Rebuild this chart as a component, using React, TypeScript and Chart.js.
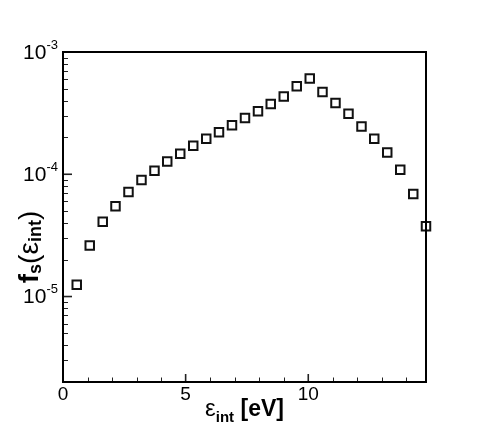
import React, { useEffect, useRef } from "react";
import { Chart, registerables } from "chart.js";

Chart.register(...registerables);

const energies = [
  0.56, 1.09, 1.62, 2.14, 2.67, 3.2, 3.73, 4.25, 4.78, 5.31, 5.84, 6.36, 6.89, 7.42,
  7.95, 8.47, 9.0, 9.53, 10.06, 10.58, 11.11, 11.64, 12.17, 12.69, 13.22, 13.75, 14.28, 14.8,
];
const fsValues = [
  1.25e-5, 2.62e-5, 4.09e-5, 5.47e-5, 7.16e-5, 8.99e-5, 1.07e-4, 1.27e-4, 1.47e-4, 1.71e-4,
  1.95e-4, 2.21e-4, 2.52e-4, 2.88e-4, 3.27e-4, 3.75e-4, 4.33e-4, 5.24e-4, 6.08e-4, 4.7e-4,
  3.82e-4, 3.13e-4, 2.46e-4, 1.95e-4, 1.51e-4, 1.09e-4, 6.9e-5, 3.75e-5,
];
const xMajorTicks = [0, 5, 10];
const xMinorTicks = [1, 2, 3, 4, 6, 7, 8, 9, 11, 12, 13, 14];
const yMajorTicks = [1e-3, 1e-4, 1e-5];
const yMajorExponents = ["-3", "-4", "-5"];
const yMinorTicks = [
  3e-6, 4e-6, 5e-6, 6e-6, 7e-6, 8e-6, 9e-6,
  2e-5, 3e-5, 4e-5, 5e-5, 6e-5, 7e-5, 8e-5, 9e-5,
  2e-4, 3e-4, 4e-4, 5e-4, 6e-4, 7e-4, 8e-4, 9e-4,
];

const FONT = '"Liberation Sans", Arial, Helvetica, sans-serif';

const decorPlugin = {
  id: "decor",
  afterDatasetsDraw(chart: any) {
    const { ctx, chartArea } = chart;
    const xs = chart.scales.x;
    const ys = chart.scales.y;
    const { left, right, top, bottom } = chartArea;
    ctx.save();

    // ticks (inward)
    ctx.strokeStyle = "#222";
    ctx.lineWidth = 1;
    for (const v of xMinorTicks) {
      const px = Math.round(xs.getPixelForValue(v)) + 0.5;
      ctx.beginPath();
      ctx.moveTo(px, bottom);
      ctx.lineTo(px, bottom - 4.5);
      ctx.stroke();
    }
    for (const v of yMinorTicks) {
      const py = Math.round(ys.getPixelForValue(v)) + 0.5;
      ctx.beginPath();
      ctx.moveTo(left, py);
      ctx.lineTo(left + 5, py);
      ctx.stroke();
    }
    ctx.lineWidth = 1.6;
    for (const v of xMajorTicks) {
      const px = xs.getPixelForValue(v);
      ctx.beginPath();
      ctx.moveTo(px, bottom);
      ctx.lineTo(px, bottom - 8);
      ctx.stroke();
    }
    for (const v of yMajorTicks) {
      const py = ys.getPixelForValue(v);
      ctx.beginPath();
      ctx.moveTo(left, py);
      ctx.lineTo(left + 9, py);
      ctx.stroke();
    }

    // frame
    ctx.strokeStyle = "#000";
    ctx.lineWidth = 2;
    ctx.strokeRect(left, top, right - left, bottom - top);

    ctx.fillStyle = "#000";
    // x tick labels
    ctx.font = `19px ${FONT}`;
    ctx.textAlign = "center";
    ctx.textBaseline = "alphabetic";
    for (const v of xMajorTicks) {
      ctx.fillText(String(v), xs.getPixelForValue(v), bottom + 18);
    }

    // y tick labels with superscript
    yMajorTicks.forEach((v, i) => {
      const py = ys.getPixelForValue(v);
      const exp = yMajorExponents[i];
      ctx.textAlign = "left";
      ctx.font = `13px ${FONT}`;
      const wExp = ctx.measureText(exp).width;
      ctx.font = `21px ${FONT}`;
      const wBase = ctx.measureText("10").width;
      const endX = left - 5;
      const startX = endX - wExp - wBase;
      ctx.fillText("10", startX, py + 6.5);
      ctx.font = `13px ${FONT}`;
      ctx.fillText(exp, startX + wBase, py - 3.5);
    });

    // x title: ε_int [eV]
    {
      const parts = [
        { t: "\u03b5", f: `24px ${FONT}`, dy: 0 },
        { t: "int", f: `bold 15px ${FONT}`, dy: 6 },
        { t: " [eV]", f: `bold 23px ${FONT}`, dy: 0 },
      ];
      let total = 0;
      for (const p of parts) {
        ctx.font = p.f;
        total += ctx.measureText(p.t).width;
      }
      let x = (left + right) / 2 - total / 2;
      const base = 416;
      ctx.textAlign = "left";
      for (const p of parts) {
        ctx.font = p.f;
        ctx.fillText(p.t, x, base + p.dy);
        x += ctx.measureText(p.t).width;
      }
    }

    // y title: f_s(ε_int)
    {
      const parts = [
        { t: "f", f: `bold 28px ${FONT}`, dy: 0 },
        { t: "s", f: `bold 18px ${FONT}`, dy: 3 },
        { t: "(", f: `28px ${FONT}`, dy: 0 },
        { t: "\u03b5", f: `28px ${FONT}`, dy: 0 },
        { t: "int", f: `bold 18px ${FONT}`, dy: 3 },
        { t: ")", f: `28px ${FONT}`, dy: 0 },
      ];
      let total = 0;
      for (const p of parts) {
        ctx.font = p.f;
        total += ctx.measureText(p.t).width;
      }
      ctx.translate(38, 247);
      ctx.rotate(-Math.PI / 2);
      let x = -total / 2;
      ctx.textAlign = "left";
      for (const p of parts) {
        ctx.font = p.f;
        ctx.fillText(p.t, x, p.dy);
        x += ctx.measureText(p.t).width;
      }
    }
    ctx.restore();
  },
};

export default function App() {
  const ref = useRef<HTMLCanvasElement | null>(null);
  useEffect(() => {
    if (!ref.current) return;
    const chart = new Chart(ref.current, {
      type: "scatter",
      data: {
        datasets: [
          {
            data: energies.map((x, i) => ({ x, y: fsValues[i] })),
            pointStyle: "rect",
            pointRadius: 6,
            pointBorderWidth: 2,
            pointBorderColor: "#111",
            pointBackgroundColor: "rgba(255,255,255,0)",
            showLine: false,
            clip: false as any,
          },
        ],
      },
      options: {
        responsive: false,
        animation: false,
        devicePixelRatio: 1,
        layout: { padding: { left: 63, right: 59, top: 52, bottom: 49 } },
        plugins: { legend: { display: false }, tooltip: { enabled: false } },
        scales: {
          x: {
            type: "linear",
            min: 0,
            max: 14.8,
            ticks: { display: false },
            grid: { display: false },
            border: { display: false },
            afterFit: (s: any) => {
              s.height = 0;
            },
          },
          y: {
            type: "logarithmic",
            min: 2e-6,
            max: 1e-3,
            ticks: { display: false },
            grid: { display: false },
            border: { display: false },
            afterFit: (s: any) => {
              s.width = 0;
            },
          },
        },
      },
      plugins: [decorPlugin],
    });
    return () => chart.destroy();
  }, []);
  return (
    <div style={{ position: "absolute", left: 0, top: 0, width: 485, height: 431, background: "#fff" }}>
      <canvas ref={ref} width={485} height={431} />
    </div>
  );
}
